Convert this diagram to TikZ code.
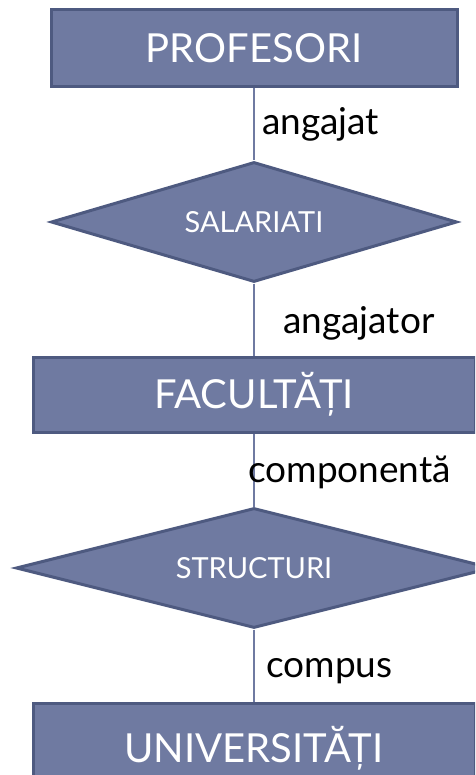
\documentclass[tikz,border=0pt]{standalone}
\usepackage{fontspec}
\setmainfont{Lato}
\usetikzlibrary{shapes.geometric}
\definecolor{boxfill}{HTML}{6F7AA1}
\definecolor{boxline}{HTML}{4E5A80}
\tikzset{
  entity/.style={rectangle, fill=boxfill, draw=boxline, line width=3pt, inner sep=0pt, text=white, font=\fontsize{40}{46}\selectfont},
  relation/.style={diamond, aspect=3.5, fill=boxfill, draw=boxline, line width=3pt, inner sep=0pt, text=white, font=\fontsize{29}{34}\selectfont},
  link/.style={draw=boxfill, line width=1.5pt},
  role/.style={anchor=base west, inner sep=0pt, text=black, font=\fontsize{37}{42}\selectfont}
}
\begin{document}
\begin{tikzpicture}[x=1pt,y=-1pt]
\useasboundingbox (0,0) rectangle (475,775);
\clip (0,0) rectangle (475,775);
\node[entity, minimum width=406, minimum height=77] (prof) at (254,48.5) {PROFESORI};
\node[relation, minimum width=406, minimum height=120] (sal) at (254,222) {SALARIATI};
\node[entity, minimum width=442, minimum height=75] (fac) at (254,394.5) {FACULTĂȚI};
\node[relation, aspect=4, minimum width=476, minimum height=120] (str) at (254,568) {STRUCTURI};
\node[entity, minimum width=442, minimum height=90] (univ) at (254,748) {UNIVERSITĂȚI};
\draw[link] (prof.south) -- (sal.north);
\draw[link] (sal.south) -- (fac.north);
\draw[link] (fac.south) -- (str.north);
\draw[link] (str.south) -- (univ.north);
\node[role] (l1) at (262,135) {angajat};
\node[role] (l2) at (283,333) {angajator};
\node[role] (l3) at (248,482) {componentă};
\node[role] (l4) at (266,677) {compus};
\end{tikzpicture}
\end{document}
